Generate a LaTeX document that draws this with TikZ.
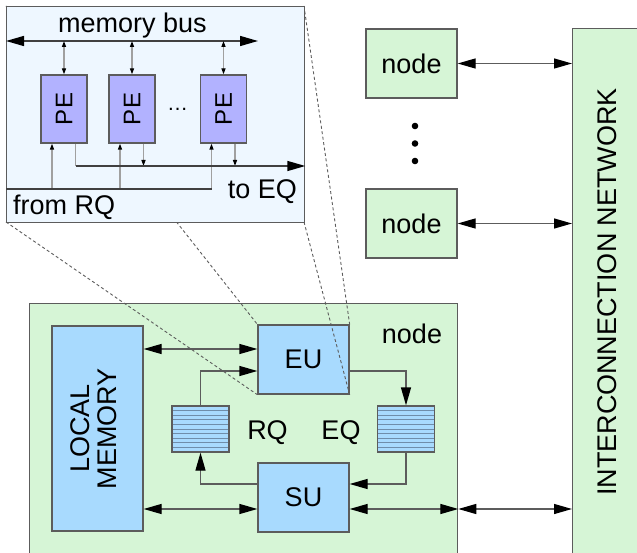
\documentclass[tikz,border=0pt]{standalone}
\usepackage{fontspec}
\setmainfont{Liberation Sans}
\usetikzlibrary{arrows.meta}

\definecolor{nodegreen}{HTML}{D6F5D6}
\definecolor{unitblue}{HTML}{A8DAFE}
\definecolor{zoomblue}{HTML}{EEF7FF}
\definecolor{pepurple}{HTML}{B2B2FF}
\definecolor{wire}{HTML}{5C5C5C}
\definecolor{stripe}{HTML}{6F8DAA}
\definecolor{peline}{HTML}{A0A0A0}

\tikzset{
	box/.style={draw=wire, line width=1.3pt, inner sep=0pt},
	nodebox/.style={box, fill=nodegreen},
	unitbox/.style={box, fill=unitblue, minimum width=91pt, minimum height=69pt},
	queuebox/.style={box, fill=unitblue, minimum width=57pt, minimum height=46pt,
		path picture={\foreach \k in {1,...,9}
			\draw[stripe, line width=1pt] ([yshift=-\k*4.6pt]path picture bounding box.north west) -- ([yshift=-\k*4.6pt]path picture bounding box.north east);}},
	pebox/.style={box, fill=pepurple, minimum width=46pt, minimum height=68pt, font=\fontsize{24}{24}\selectfont},
	bigtip/.tip={Triangle[length=18pt, width=10pt, color=black]},
	smalltip/.tip={Triangle[length=6pt, width=4pt, color=black]},
	link/.style={draw=wire, line width=1.3pt, -bigtip},
	duplex/.style={draw=wire, line width=1.3pt, bigtip-bigtip},
	bus/.style={draw=black!75, line width=1.4pt},
	pewire/.style={draw=peline, line width=1.3pt},
	zoomline/.style={draw=wire, line width=0.9pt, dash pattern=on 3pt off 2.5pt},
	label/.style={inner sep=0pt}
}

\begin{document}
\begin{tikzpicture}[x=1pt, y=-1pt, font=\fontsize{27}{27}\selectfont]
	%%%%% START %%%%%
	\useasboundingbox (0,0) rectangle (637,553);
	\clip (0,0) rectangle (637,553);

	% one node, enlarged
	\node[nodebox, minimum width=428pt, minimum height=280pt, anchor=north west] (cnode) at (29,303) {};
	\node[label, anchor=base] (cnodename) at (412,343) {node};

	\node[box, fill=unitblue, minimum width=91pt, minimum height=205pt] (lmem) at (97.5,428.5)
		{\rotatebox{90}{\begin{tabular}{@{}c@{}}LOCAL\\MEMORY\end{tabular}}};
	\node[unitbox] (EU) at (303.5,359.5) {EU};
	\node[unitbox] (SU) at (303.5,497.5) {SU};
	\node[queuebox] (RQ) at (200.5,429) {};
	\node[queuebox] (EQ) at (406,429) {};
	\node[label, anchor=base] (RQname) at (267.5,439) {RQ};
	\node[label, anchor=base] (EQname) at (341,439) {EQ};

	\coordinate (EUtop) at ([yshift=10.5pt]EU.west);
	\coordinate (SUbot) at ([yshift=-11.5pt]SU.west);
	\draw[duplex] (lmem.east |- EUtop) -- (EUtop);
	\draw[duplex] (lmem.east |- SUbot) -- (SUbot);
	\draw[link] (RQ.north) |- ([yshift=-11.5pt]EU.west);
	\draw[link] ([yshift=-11.5pt]EU.east) -| (EQ.north);
	\draw[link] (EQ.south) |- ([yshift=13.5pt]SU.east);
	\draw[link] ([yshift=13.5pt]SU.west) -| (RQ.south);
	\draw[duplex] ([yshift=-11.5pt]SU.east) -- (cnode.east |- SUbot);

	% the other nodes and the network
	\node[nodebox, minimum width=90pt, minimum height=560pt, anchor=north west] (net) at (572,28) {};
	\node[label, rotate=90] (netname) at (607,292) {INTERCONNECTION NETWORK};
	\node[nodebox, minimum width=91pt, minimum height=69pt] (node1) at (411.5,63.5) {node};
	\node[nodebox, minimum width=91pt, minimum height=69pt] (node2) at (411.5,223.5) {node};
	\foreach \y in {126,143.5,161}
		\fill (415,\y) circle (3.3);

	\draw[duplex] (node1.east) -- (net.west |- node1.east);
	\draw[duplex] (node2.east) -- (net.west |- node2.east);
	\draw[duplex] (cnode.east |- SUbot) -- (net.west |- SUbot);

	% zoom onto the EU
	\coordinate (insetnw) at (6,6);
	\coordinate (insetne) at (304,6);
	\coordinate (insetsw) at (6,222);
	\coordinate (insetse) at (304,222);
	\draw[zoomline] (insetnw) -- (EU.north west);
	\draw[zoomline] (insetne) -- (EU.north east);
	\draw[zoomline] (insetsw) -- (EU.south west);
	\draw[zoomline] (insetse) -- (EU.south east);

	\node[box, fill=zoomblue, minimum width=298pt, minimum height=216pt, anchor=north west] (inset) at (insetnw) {};
	\node[label, anchor=base] (busname) at (132.5,33) {memory bus};
	\node[label, anchor=base] (toEQname) at (262.5,199) {to EQ};
	\node[label, anchor=base west] (fromRQname) at (13,215) {from RQ};

	\node[pebox] (PE1) at (64,109) {\rotatebox{90}{PE}};
	\node[pebox] (PE2) at (132,109) {\rotatebox{90}{PE}};
	\node[pebox] (PE3) at (223.5,109) {\rotatebox{90}{PE}};
	\node[label, font=\fontsize{21}{21}\selectfont] (PEdots) at (177.5,109) {\dots};

	\coordinate (membus) at (0,41);
	\coordinate (eqbus) at (75.5,166);
	\coordinate (rqbus) at (0,189);
	\draw[bus, bigtip-bigtip] (inset.west |- membus) -- (258,41);
	\foreach \p in {PE1,PE2,PE3} {
		\draw[pewire, smalltip-smalltip] (\p.north |- membus) -- (\p.north);
		\draw[pewire, -smalltip] ([xshift=-12pt]\p.south |- rqbus) -- ([xshift=-12pt]\p.south);
	}
	\draw[bus] (inset.west |- rqbus) -- ([xshift=-12pt]PE3.south |- rqbus);
	\draw[pewire] ([xshift=11.5pt]PE1.south) -- (eqbus);
	\draw[pewire, -smalltip] ([xshift=11.5pt]PE2.south) -- ([xshift=11.5pt]PE2.south |- eqbus);
	\draw[pewire, -smalltip] ([xshift=11.5pt]PE3.south) -- ([xshift=11.5pt]PE3.south |- eqbus);
	\draw[bus, -bigtip] (eqbus) -- (inset.east |- eqbus);
	%%%%% END %%%%%
\end{tikzpicture}
\end{document}
